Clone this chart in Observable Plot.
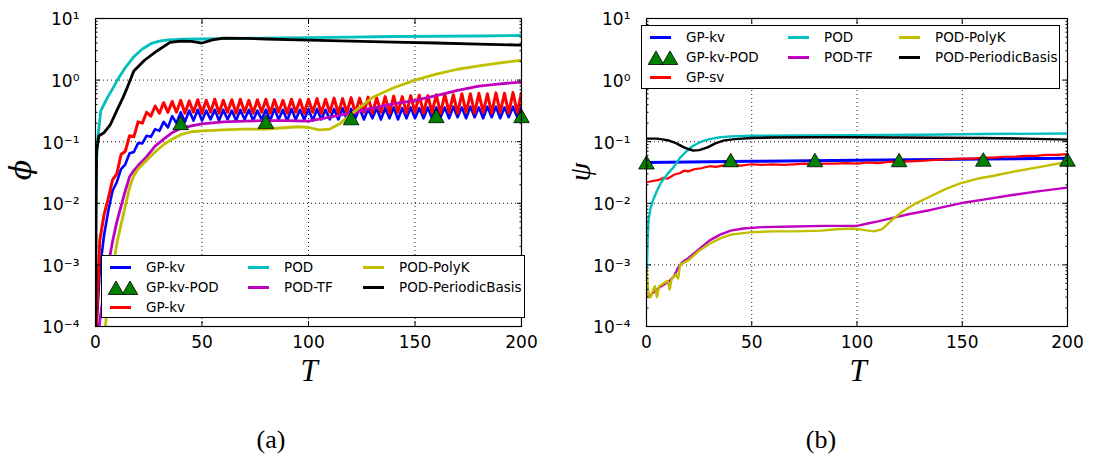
<!DOCTYPE html>
<html>
<head>
<meta charset="utf-8">
<script src="https://cdn.jsdelivr.net/npm/d3@7"></script>
<script src="https://cdn.jsdelivr.net/npm/@observablehq/plot@0.6"></script>
<style>
  body { margin: 0; background: #fff; }
  #root { position: relative; width: 1096px; height: 457px; overflow: hidden; font-family: "DejaVu Sans", sans-serif; background: #fff; }
  .panel { position: absolute; top: 0; }
  .lbl { position: absolute; transform: translate(-50%, -50%); font-family: "Liberation Serif", "DejaVu Serif", serif; white-space: nowrap; line-height: 1; color: #000; }
  .legend { position: absolute; background: #fff; border: 1.3px solid #000; box-sizing: border-box; }
  .legend .txt { position: absolute; transform: translateY(-50%); font-size: 13.5px; line-height: 1; white-space: nowrap; color: #000; font-family: "DejaVu Sans", sans-serif; }
  .legend .sw { position: absolute; height: 3px; }
  .legend svg { position: absolute; overflow: visible; }
</style>
</head>
<body>
<div id="root">
  <div id="pa" class="panel" style="left:0px"></div>
  <div id="pb" class="panel" style="left:548px"></div>
</div>
<script>
// ---------------- axes / ticks ----------------
const xTicks = [0, 50, 100, 150, 200];
const yDecades = [1e-4, 1e-3, 1e-2, 1e-1, 1e0, 1e1];
const minorMult = [2, 3, 4, 5, 6, 7, 8, 9];

// ---------------- colours ----------------
const cBlue = "#0000ff", cRed = "#ff0000", cCyan = "#00bfbf", cMag = "#bf00bf", cYel = "#bfbf00", cBlack = "#000000", cGreen = "#008000";

// ---------------- panel (a): phi ----------------
const a_T_osc = d3.range(0, 201, 2);
const a_GPkv_blue = [
  0.00005,0.0008,0.003,0.0075,0.016,0.022,0.036,0.043,0.065,0.068,
  0.095,0.094,0.125,0.12,0.16,0.15,0.21,0.17,0.26,0.2,
  0.3,0.21,0.32,0.22,0.33,0.22,0.32,0.23,0.33,0.22,
  0.33,0.23,0.32,0.22,0.33,0.23,0.33,0.22,0.32,0.23,
  0.33,0.22,0.34,0.23,0.33,0.22,0.34,0.23,0.33,0.23,
  0.34,0.22,0.34,0.23,0.33,0.23,0.34,0.23,0.35,0.23,
  0.34,0.24,0.35,0.23,0.34,0.24,0.35,0.23,0.35,0.24,
  0.36,0.23,0.35,0.24,0.36,0.24,0.35,0.24,0.36,0.24,
  0.36,0.25,0.36,0.24,0.37,0.25,0.36,0.24,0.37,0.25,
  0.36,0.24,0.37,0.25,0.37,0.24,0.36,0.25,0.37,0.25,
  0.38];
const a_GPkv_red = [
  0.00005,0.0025,0.0065,0.012,0.024,0.03,0.062,0.07,0.125,0.12,
  0.21,0.2,0.3,0.26,0.38,0.29,0.43,0.3,0.45,0.3,
  0.47,0.29,0.46,0.3,0.48,0.29,0.47,0.3,0.49,0.29,
  0.47,0.3,0.48,0.29,0.49,0.3,0.47,0.29,0.48,0.3,
  0.49,0.29,0.48,0.3,0.47,0.29,0.49,0.3,0.48,0.29,
  0.49,0.3,0.5,0.29,0.49,0.3,0.51,0.29,0.5,0.3,
  0.52,0.29,0.51,0.3,0.53,0.29,0.52,0.3,0.54,0.29,
  0.55,0.3,0.54,0.29,0.56,0.3,0.57,0.29,0.56,0.3,
  0.58,0.29,0.59,0.3,0.58,0.29,0.6,0.3,0.6,0.29,
  0.61,0.3,0.6,0.29,0.62,0.3,0.61,0.29,0.63,0.3,
  0.62];
const a_POD_T = [0,0.5,1,2.5,5.6,8,10.3,14,18,22,26,30,34,40,50,60,80,100,120,140,160,180,200];
const a_POD   = [0.005,0.05,0.11,0.32,0.52,0.72,1.0,1.6,2.4,3.2,3.9,4.3,4.5,4.6,4.65,4.7,4.8,4.9,5.0,5.1,5.15,5.2,5.3];
const a_TF_T = [0,2,4,6,8,10,12,14,16,18,20,24,28,32,36,40,45,50,60,70,80,90,100,110,120,130,140,150,160,170,180,190,200];
const a_TF   = [0.00003,0.00012,0.0004,0.001,0.0024,0.005,0.009,0.016,0.027,0.034,0.041,0.057,0.085,0.11,0.14,0.165,0.18,0.195,0.21,0.215,0.22,0.22,0.215,0.25,0.29,0.35,0.41,0.47,0.56,0.68,0.8,0.87,0.93];
const a_PolyK_T = [0,4,6,8,10,12,14,16,18,20,24,28,32,36,40,45,50,60,70,80,90,95,100,105,110,115,120,125,130,140,150,160,170,180,190,200];
const a_PolyK   = [0.00001,0.00006,0.0003,0.0008,0.0022,0.0045,0.009,0.018,0.028,0.036,0.05,0.068,0.09,0.11,0.13,0.145,0.15,0.155,0.16,0.16,0.17,0.175,0.17,0.155,0.16,0.2,0.28,0.38,0.52,0.75,1.0,1.25,1.5,1.7,1.9,2.1];
const a_Per_T = [0,0.3,0.5,1.6,4,7,10,13,15,18,23,29,35,40,45,50,55,60,70,80,90,100,120,140,160,180,200];
const a_Per   = [0.00003,0.01,0.07,0.125,0.14,0.19,0.32,0.53,0.77,1.4,2.1,3.0,4.1,4.3,4.25,4.0,4.5,4.8,4.75,4.65,4.55,4.45,4.3,4.15,4.0,3.85,3.7];
const a_GPkvPOD_T = [40, 80, 120, 160, 200];
const a_GPkvPOD   = [0.2, 0.21, 0.24, 0.26, 0.26];

// ---------------- panel (b): psi ----------------
const b_GPkv_T = [0, 50, 100, 150, 200];
const b_GPkv   = [0.046, 0.048, 0.05, 0.052, 0.054];
const b_GPsv_T = [0,3,6,8,10,13,16,18,20,23,26,30,33,36,40,45,50,55,60,65,70,75,80,85,90,95,100,105,110,115,120,125,130,135,140,145,150,155,160,165,170,175,180,185,190,195,200];
const b_GPsv   = [0.022,0.023,0.024,0.026,0.025,0.029,0.031,0.034,0.033,0.036,0.037,0.04,0.039,0.041,0.042,0.041,0.043,0.042,0.043,0.042,0.043,0.044,0.043,0.044,0.044,0.045,0.044,0.046,0.045,0.047,0.047,0.048,0.049,0.05,0.051,0.052,0.053,0.053,0.055,0.055,0.057,0.057,0.059,0.059,0.061,0.061,0.063];
const b_POD_T = [0,0.3,0.6,1,2,3,5,7,10,13,16,19,22,26,30,35,40,50,70,100,130,160,200];
const b_POD   = [0.0006,0.0012,0.003,0.0055,0.0085,0.011,0.016,0.022,0.03,0.039,0.055,0.07,0.085,0.1,0.11,0.118,0.122,0.125,0.126,0.128,0.13,0.133,0.136];
const b_TF_T = [0,1,3,5,7,9,11,13,15,17,20,25,30,35,40,46,55,70,85,100,105,110,117,125,135,149,160,173,185,200];
const b_TF   = [0.0006,0.0003,0.00035,0.0004,0.00045,0.0005,0.00055,0.00065,0.0009,0.0011,0.0013,0.0018,0.0025,0.0031,0.0036,0.0039,0.0041,0.0042,0.0043,0.0043,0.0047,0.0051,0.0058,0.0067,0.0078,0.01,0.0115,0.0135,0.0155,0.018];
const b_PolyK_T = [0,1,2,3,4,5,6,8,10,11,12,14,15,16,18,20,25,30,35,40,50,60,70,83,90,98,103,108,112,117,122,128,135,142,149,157,165,175,185,200];
const b_PolyK   = [0.0009,0.0003,0.0003,0.00038,0.00045,0.0003,0.00045,0.0005,0.00055,0.0004,0.0006,0.0007,0.0006,0.001,0.0011,0.0012,0.0017,0.0022,0.0027,0.0031,0.0034,0.0035,0.0035,0.0036,0.0038,0.0039,0.0037,0.0035,0.0038,0.0055,0.0075,0.01,0.013,0.017,0.021,0.025,0.028,0.033,0.038,0.047];
const b_Per_T = [0,5,10,14,18,22,25,29,33,37,42,50,60,80,100,120,140,160,180,200];
const b_Per   = [0.112,0.112,0.106,0.095,0.08,0.072,0.073,0.081,0.095,0.105,0.11,0.115,0.117,0.118,0.118,0.117,0.116,0.115,0.112,0.108];
const b_GPkvPOD_T = [0, 40, 80, 120, 160, 200];
const b_GPkvPOD   = [0.046, 0.05, 0.05, 0.05, 0.051, 0.051];

// ---------------- legend labels ----------------
const legendA = ["GP-kv", "GP-kv-POD", "GP-kv", "POD", "POD-TF", "POD-PolyK", "POD-PeriodicBasis"];
const legendB = ["GP-kv", "GP-kv-POD", "GP-sv", "POD", "POD-TF", "POD-PolyK", "POD-PeriodicBasis"];
const legendColors = [cBlue, cGreen, cRed, cCyan, cMag, cYel, cBlack];
const legendKinds = ["line", "tri", "line", "line", "line", "line", "line"];
const legendCol = [0, 0, 0, 1, 1, 2, 2];
const legendRow = [0, 1, 2, 0, 1, 0, 1];

// ---------------- helpers ----------------
const sup = {"-":"⁻","0":"⁰","1":"¹","2":"²","3":"³","4":"⁴","5":"⁵","6":"⁶","7":"⁷","8":"⁸","9":"⁹"};
const fmtPow = d => "10" + String(Math.round(Math.log10(d))).split("").map(c => sup[c]).join("");
const rows = (T, v) => T.map((t, i) => ({T: t, v: v[i]}));
const minorTicks = [];
for (const d of yDecades.slice(0, -1)) for (const m of minorMult) minorTicks.push(d * m);
const triR = 5.8;

function makePanel({series, tri, marginLeft, marginRight}) {
  const noText = () => "";
  return Plot.plot({
    width: 548, height: 400,
    marginLeft, marginRight, marginTop: 18, marginBottom: 74,
    style: {fontFamily: "'DejaVu Sans', sans-serif", fontSize: "17px", color: "#000", background: "transparent", overflow: "visible"},
    x: {domain: [0, 200]},
    y: {type: "log", domain: [1e-4, 10]},
    marks: [
      Plot.gridX({ticks: xTicks.slice(1, -1), stroke: "#000", strokeOpacity: 0.9, strokeWidth: 1, strokeDasharray: "1,3"}),
      Plot.gridY({ticks: yDecades.slice(1, -1), stroke: "#000", strokeOpacity: 0.9, strokeWidth: 1, strokeDasharray: "1,3"}),
      ...series.map(s => Plot.line(rows(s.T, s.v), {x: "T", y: "v", stroke: s.color, strokeWidth: s.w || 2.5, clip: true})),
      Plot.dot(rows(tri.T, tri.v), {x: "T", y: "v", symbol: "triangle", r: triR, fill: cGreen, stroke: "#000", strokeWidth: 0.8, dy: 2}),
      Plot.axisX({ticks: xTicks, anchor: "bottom", tickSize: 0, tickPadding: 9, tickFormat: d => String(d), label: null, fontSize: 17}),
      Plot.axisY({ticks: yDecades, anchor: "left", tickSize: 0, tickPadding: 16, tickFormat: fmtPow, label: null, fontSize: 17, dy: 1.5}),
      Plot.axisX({ticks: xTicks, anchor: "bottom", tickSize: 5, dy: -5, tickFormat: noText, label: null}),
      Plot.axisX({ticks: xTicks, anchor: "top", tickSize: 5, dy: 5, tickFormat: noText, label: null}),
      Plot.axisY({ticks: yDecades, anchor: "left", tickSize: 5, dx: 5, tickFormat: noText, label: null}),
      Plot.axisY({ticks: yDecades, anchor: "right", tickSize: 5, dx: -5, tickFormat: noText, label: null}),
      Plot.axisY({ticks: minorTicks, anchor: "left", tickSize: 2.5, dx: 2.5, tickFormat: noText, label: null}),
      Plot.axisY({ticks: minorTicks, anchor: "right", tickSize: 2.5, dx: -2.5, tickFormat: noText, label: null}),
      Plot.frame({stroke: "#000", strokeWidth: 1.2})
    ]
  });
}

const panelA = makePanel({
  marginLeft: 95, marginRight: 27,
  series: [
    {T: a_T_osc, v: a_GPkv_blue, color: cBlue, w: 2.6},
    {T: a_T_osc, v: a_GPkv_red, color: cRed, w: 3},
    {T: a_POD_T, v: a_POD, color: cCyan, w: 2.8},
    {T: a_TF_T, v: a_TF, color: cMag, w: 2.8},
    {T: a_PolyK_T, v: a_PolyK, color: cYel, w: 2.8},
    {T: a_Per_T, v: a_Per, color: cBlack, w: 2.8}
  ],
  tri: {T: a_GPkvPOD_T, v: a_GPkvPOD}
});
const panelB = makePanel({
  marginLeft: 98, marginRight: 29,
  series: [
    {T: b_GPkv_T, v: b_GPkv, color: cBlue, w: 3},
    {T: b_GPsv_T, v: b_GPsv, color: cRed, w: 2.2},
    {T: b_POD_T, v: b_POD, color: cCyan, w: 2.4},
    {T: b_TF_T, v: b_TF, color: cMag, w: 2.4},
    {T: b_PolyK_T, v: b_PolyK, color: cYel, w: 2.4},
    {T: b_Per_T, v: b_Per, color: cBlack, w: 2.4}
  ],
  tri: {T: b_GPkvPOD_T, v: b_GPkvPOD}
});
document.getElementById("pa").appendChild(panelA);
document.getElementById("pb").appendChild(panelB);

const root = document.getElementById("root");

// ---------------- legends ----------------
function makeLegend(labels, box, colX) {
  const lg = document.createElement("div");
  lg.className = "legend";
  Object.assign(lg.style, {left: box.left + "px", top: box.top + "px", width: box.width + "px", height: box.height + "px"});
  const rowY = [11.7, 31.7, 51.7];
  const triPath = d3.symbol().type(d3.symbolTriangle).size(Math.PI * triR * triR)();
  labels.forEach((lab, i) => {
    const x = colX[legendCol[i]], y = rowY[legendRow[i]];
    if (legendKinds[i] === "line") {
      const sw = document.createElement("div");
      sw.className = "sw";
      Object.assign(sw.style, {left: x + "px", top: (y - 1.5) + "px", width: "21px", background: legendColors[i]});
      lg.appendChild(sw);
    } else {
      const ns = "http://www.w3.org/2000/svg";
      const svg = document.createElementNS(ns, "svg");
      svg.setAttribute("width", "30"); svg.setAttribute("height", "20");
      svg.style.left = (x - 2) + "px"; svg.style.top = (y - 10) + "px";
      [8, 22].forEach(cx => {
        const p = document.createElementNS(ns, "path");
        p.setAttribute("d", triPath);
        p.setAttribute("transform", `translate(${cx},${12})`);
        p.setAttribute("fill", legendColors[i]);
        p.setAttribute("stroke", "#000");
        p.setAttribute("stroke-width", "0.8");
        svg.appendChild(p);
      });
      lg.appendChild(svg);
    }
    const t = document.createElement("div");
    t.className = "txt";
    t.textContent = lab;
    Object.assign(t.style, {left: (x + 36) + "px", top: y + "px"});
    lg.appendChild(t);
  });
  root.appendChild(lg);
}
makeLegend(legendA, {left: 101, top: 255, width: 424, height: 63}, [8, 146, 261]);
makeLegend(legendB, {left: 641, top: 25, width: 419, height: 64}, [8, 146, 257]);

// ---------------- axis labels & captions ----------------
function label(text, x, y, size, opts = {}) {
  const d = document.createElement("div");
  d.className = "lbl";
  d.textContent = text;
  Object.assign(d.style, {left: x + "px", top: y + "px", fontSize: size + "px", fontStyle: opts.italic ? "italic" : "normal"});
  if (opts.font) d.style.fontFamily = opts.font;
  if (opts.rotate) d.style.transform = "translate(-50%, -50%) rotate(-90deg)";
  root.appendChild(d);
}
label("ϕ", 21, 170, 30, {italic: true, rotate: true, font: "'DejaVu Serif', serif"});
label("ψ", 580, 172, 30, {italic: true, rotate: true});
label("T", 309, 370, 31, {italic: true});
label("T", 858, 370, 31, {italic: true});
label("(a)", 271, 440, 26);
label("(b)", 821, 440, 26);
</script>
</body>
</html>
